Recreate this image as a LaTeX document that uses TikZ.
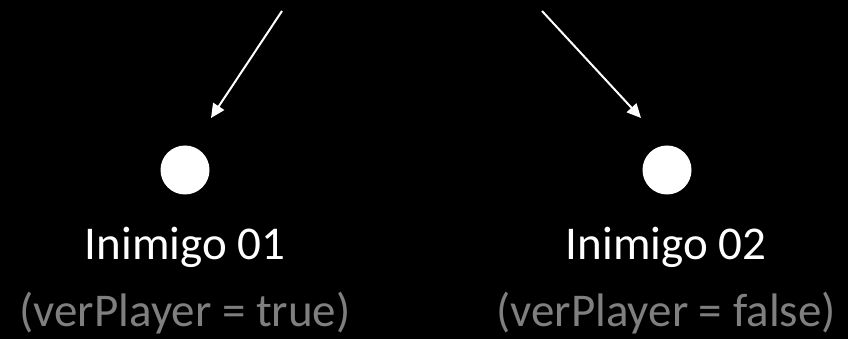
\documentclass[tikz,border=0pt]{standalone}
\usepackage{fontspec}
\setmainfont{Carlito}
\usetikzlibrary{arrows.meta}
\definecolor{subgray}{RGB}{127,127,127}
\tikzset{
  flow/.style={draw=white, line width=2pt, -{Triangle[length=14pt, width=13pt]}},
  enemy/.style={circle, fill=white, draw=none, minimum size=49pt, inner sep=0pt},
  title/.style={text=white, font=\fontsize{47}{50}\selectfont, anchor=base, inner sep=0pt},
  cond/.style={text=subgray, font=\fontsize{47}{50}\selectfont, anchor=base, inner sep=0pt}
}
\begin{document}
\begin{tikzpicture}[x=1pt, y=1pt]
  \fill[black] (0,0) rectangle (848,339);
  \useasboundingbox (0,0) rectangle (848,339);

  % incoming arrows
  \coordinate (srcA) at (282,328);
  \coordinate (dstA) at (211,221);
  \coordinate (srcB) at (542,328);
  \coordinate (dstB) at (641,221);
  \draw[flow] (srcA) -- (dstA);
  \draw[flow] (srcB) -- (dstB);

  % enemies
  \node[enemy] (e1) at (185,169) {};
  \node[enemy] (e2) at (667,169) {};

  \node[title] (t1) at (185,79) {Inimigo 01};
  \node[title] (t2) at (666,79) {Inimigo 02};
  \node[cond] (c1) at (185,12) {(verPlayer = true)};
  \node[cond] (c2) at (666,12) {(verPlayer = false)};
\end{tikzpicture}
\end{document}
